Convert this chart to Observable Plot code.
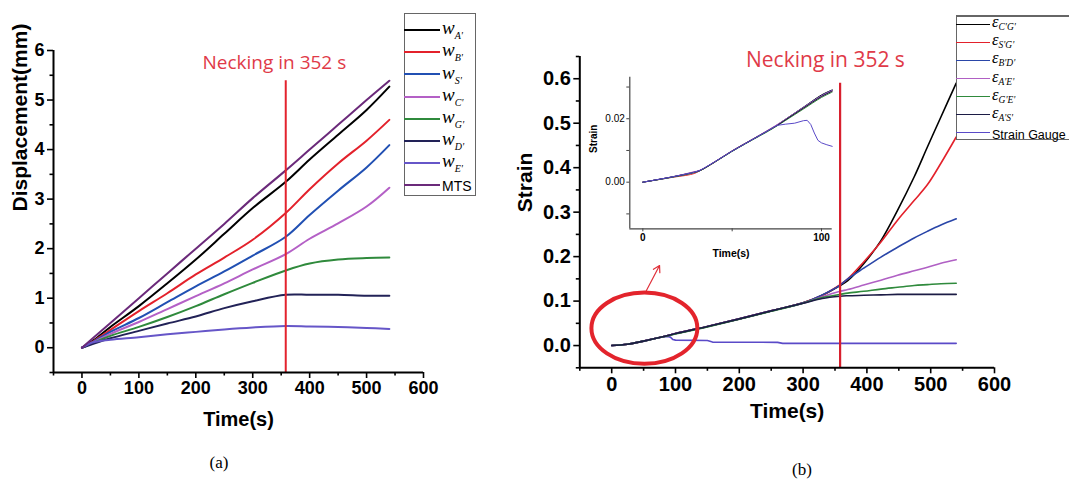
<!DOCTYPE html>
<html><head><meta charset="utf-8">
<script src="https://cdn.jsdelivr.net/npm/d3@7"></script>
<script src="https://cdn.jsdelivr.net/npm/@observablehq/plot@0.6"></script>
<style>
html,body{margin:0;padding:0;background:#fff;overflow:hidden;}
#root{position:relative;width:1069px;height:485px;overflow:hidden;font-family:"Liberation Sans",Arial,sans-serif;}
.panel{position:absolute;}
.legend{position:absolute;background:#fff;border:1px solid #666;box-sizing:border-box;}
.sw{position:absolute;left:0;height:0;border-top-style:solid;}
.lt{position:absolute;white-space:nowrap;line-height:1;}
.sym{font-family:"Liberation Serif","Times New Roman",serif;font-style:italic;}
.sub{font-family:"Liberation Serif","Times New Roman",serif;font-style:italic;position:relative;}
.cap{position:absolute;font-family:"Liberation Serif","Times New Roman",serif;font-size:17px;transform:translate(-50%,-50%);}
</style></head><body><div id="root"></div>
<script>
// ---------- Panel (a): displacement ----------
const timeA = [0, 20, 50, 100, 150, 200, 250, 300, 358, 400, 450, 500, 540];
const wA  = [0, 0.15, 0.42, 0.84, 1.30, 1.78, 2.30, 2.82, 3.35, 3.80, 4.30, 4.80, 5.27];
const wB  = [0, 0.13, 0.36, 0.74, 1.10, 1.48, 1.82, 2.18, 2.72, 3.20, 3.72, 4.18, 4.60];
const wS  = [0, 0.12, 0.32, 0.60, 0.92, 1.24, 1.54, 1.86, 2.24, 2.68, 3.17, 3.64, 4.09];
const wC  = [0, 0.11, 0.28, 0.52, 0.78, 1.04, 1.30, 1.58, 1.89, 2.20, 2.51, 2.85, 3.23];
const wG  = [0, 0.10, 0.24, 0.42, 0.62, 0.84, 1.08, 1.31, 1.56, 1.70, 1.78, 1.81, 1.82];
const wD  = [0, 0.08, 0.19, 0.34, 0.49, 0.63, 0.80, 0.94, 1.07, 1.07, 1.07, 1.05, 1.05];
const wE  = [0, 0.11, 0.16, 0.21, 0.27, 0.32, 0.37, 0.41, 0.44, 0.43, 0.42, 0.40, 0.38];
const mts = [0, 0.20, 0.50, 1.00, 1.50, 2.00, 2.50, 3.02, 3.58, 4.00, 4.50, 5.00, 5.39];
const seriesA = ["wA'", "wB'", "wS'", "wC'", "wG'", "wD'", "wE'", "MTS"];
const valuesA = [wA, wB, wS, wC, wG, wD, wE, mts];
const colorsA = ["#000000", "#e3212b", "#2150b3", "#b460c6", "#2f8a3c", "#222257", "#6656c8", "#6b2a7a"];
const legendA = [["w","A'"],["w","B'"],["w","S'"],["w","C'"],["w","G'"],["w","D'"],["w","E'"],["MTS",null]];
const xTicks = [0, 100, 200, 300, 400, 500, 600];
const xMinor = [-50, 50, 150, 250, 350, 450, 550];
const yTicksA = [0, 1, 2, 3, 4, 5, 6];
const yMinorA = [-0.5, 0.5, 1.5, 2.5, 3.5, 4.5, 5.5];

// ---------- Panel (b): strain ----------
const timeB = [0, 25, 50, 75, 100, 150, 200, 250, 300, 330, 358, 370, 395, 422, 448, 474, 495, 516, 540];
const eCG = [0, 0.003, 0.010, 0.018, 0.027, 0.043, 0.060, 0.078, 0.096, 0.113, 0.135, 0.146, 0.184, 0.236, 0.304, 0.379, 0.447, 0.514, 0.590];
const eSG = [0, 0.003, 0.010, 0.018, 0.027, 0.043, 0.060, 0.078, 0.096, 0.113, 0.137, 0.150, 0.188, 0.233, 0.282, 0.326, 0.362, 0.410, 0.469];
const eBD = [0, 0.003, 0.010, 0.018, 0.027, 0.043, 0.060, 0.078, 0.096, 0.114, 0.136, 0.150, 0.174, 0.199, 0.221, 0.242, 0.257, 0.271, 0.285];
const eAE = [0, 0.003, 0.010, 0.018, 0.027, 0.043, 0.060, 0.078, 0.095, 0.110, 0.122, 0.126, 0.136, 0.147, 0.158, 0.168, 0.176, 0.185, 0.193];
const eGE = [0, 0.003, 0.010, 0.018, 0.026, 0.042, 0.059, 0.077, 0.095, 0.108, 0.115, 0.118, 0.122, 0.127, 0.131, 0.135, 0.137, 0.139, 0.140];
const eAS = [0, 0.003, 0.010, 0.018, 0.027, 0.043, 0.060, 0.078, 0.095, 0.106, 0.111, 0.112, 0.113, 0.114, 0.115, 0.115, 0.115, 0.115, 0.115];
const timeGauge = [0, 25, 50, 75, 88, 92, 96, 100, 150, 158, 260, 268, 540];
const gauge     = [0, 0.003, 0.010, 0.018, 0.0205, 0.019, 0.0135, 0.0122, 0.0115, 0.0078, 0.0072, 0.005, 0.005];
const seriesB = ["eC'G'", "eS'G'", "eB'D'", "eA'E'", "eG'E'", "eA'S'", "Strain Gauge"];
const colorsB = ["#000000", "#e3212b", "#2a46a8", "#b060c4", "#2f8a3c", "#1c1c45", "#5a4ac8"];
const legendB = [["ε","C'G'"],["ε","S'G'"],["ε","B'D'"],["ε","A'E'"],["ε","G'E'"],["ε","A'S'"],["Strain Gauge",null]];
const yTicksB = [0, 0.1, 0.2, 0.3, 0.4, 0.5, 0.6];
const yMinorB = [-0.05, 0.05, 0.15, 0.25, 0.35, 0.45, 0.55, 0.65];

// ---------- Inset ----------
const timeI = [0, 15, 28, 32, 40, 50, 60, 70, 75, 80, 90, 100, 106];
const iCG = [0, 0.0015, 0.0031, 0.0037, 0.0063, 0.0099, 0.0131, 0.0163, 0.0180, 0.0199, 0.0237, 0.0275, 0.0291];
const iSG = [0, 0.0014, 0.0026, 0.0036, 0.0062, 0.0098, 0.0130, 0.0162, 0.0179, 0.0197, 0.0234, 0.0271, 0.0288];
const iBD = [0, 0.0015, 0.0030, 0.0037, 0.0063, 0.0098, 0.0130, 0.0162, 0.0179, 0.0198, 0.0236, 0.0273, 0.0290];
const iAE = [0, 0.0015, 0.0032, 0.0038, 0.0064, 0.0099, 0.0131, 0.0164, 0.0181, 0.0199, 0.0236, 0.0272, 0.0289];
const iGE = [0, 0.0014, 0.0029, 0.0036, 0.0062, 0.0097, 0.0129, 0.0160, 0.0177, 0.0195, 0.0231, 0.0267, 0.0284];
const iAS = [0, 0.0015, 0.0030, 0.0037, 0.0063, 0.0098, 0.0130, 0.0162, 0.0178, 0.0197, 0.0234, 0.0270, 0.0287];
const timeIG = [0, 15, 28, 32, 40, 50, 60, 70, 75, 80, 85, 90, 92, 94, 96, 98, 100, 103, 106];
const iGauge = [0, 0.0015, 0.003, 0.0037, 0.0063, 0.0098, 0.013, 0.0162, 0.0179, 0.0183, 0.0186, 0.0194, 0.0195, 0.0182, 0.0155, 0.0132, 0.0124, 0.0118, 0.0113];

// ---------- Annotations ----------
const neckingLine = [358];
const neckLabelA = [{t: 338, v: 5.75, label: "Necking in 352 s"}];
const neckLabelB = [{t: 335, v: 0.642, label: "Necking in 352 s"}];
const arrowB = [{t1: 53, s1: 0.12, t2: 75, s2: 0.18}];
const circleB = {t: 52, s: 0.038, tr: 83, sr: 0.08};

function rows(times, vals, name) { return times.map((t, i) => ({t, v: vals[i], s: name})); }

const root = document.getElementById("root");
const font = "'Liberation Sans', Arial, sans-serif";
const red = "#e3232e";

// ---------- Panel (a) chart ----------
const dataA = seriesA.flatMap((s, k) => rows(timeA, valuesA[k], s));
const chartA = Plot.plot({
  width: 490, height: 450,
  marginLeft: 53, marginRight: 67, marginTop: 50, marginBottom: 78,
  style: {background: "transparent", fontFamily: font, overflow: "visible"},
  x: {domain: [-50, 600]},
  y: {domain: [-0.5, 6]},
  color: {domain: seriesA, range: colorsA},
  marks: [
    Plot.line(dataA, {x: "t", y: "v", z: "s", stroke: "s", strokeWidth: 2, curve: "catmull-rom"}),
    Plot.ruleX(neckingLine, {y1: 5.39, y2: -0.5, stroke: red, strokeWidth: 2}),
    Plot.text(neckLabelA, {x: "t", y: "v", text: "label", fill: "#e03a48", fontSize: 19, fontFamily: "'Open Sans', 'Liberation Sans', sans-serif"}),
    Plot.ruleX([-50], {stroke: "#000", strokeWidth: 2}),
    Plot.ruleY([-0.5], {stroke: "#000", strokeWidth: 2}),
    Plot.axisX({ticks: xTicks, tickSize: 6, tickPadding: 3, tickFormat: d3.format("d"), fontSize: 18, fontWeight: "bold", strokeWidth: 1.6, label: null}),
    Plot.axisX({ticks: xMinor, tickSize: 3.5, tickFormat: () => "", strokeWidth: 1.6, label: null}),
    Plot.axisY({ticks: yTicksA, tickSize: 6, tickPadding: 3, tickFormat: d3.format("d"), fontSize: 18, fontWeight: "bold", strokeWidth: 1.6, label: null}),
    Plot.axisY({ticks: yMinorA, tickSize: 3.5, tickFormat: () => "", strokeWidth: 1.6, label: null}),
    Plot.text(["Time(s)"], {text: d => d, frameAnchor: "bottom", dy: 53, fontSize: 20, fontWeight: "bold"}),
    Plot.text(["Displacement(mm)"], {text: d => d, frameAnchor: "left", dx: -33, rotate: -90, fontSize: 21, fontWeight: "bold"})
  ]
});
chartA.classList.add("panel");
chartA.style.left = "0px"; chartA.style.top = "0px";
root.appendChild(chartA);

// ---------- Panel (b) chart ----------
const valuesB = [eCG, eSG, eBD, eAE, eGE, eAS];
const dataB = seriesB.slice(0, 6).flatMap((s, k) => rows(timeB, valuesB[k], s));
const dataGauge = rows(timeGauge, gauge, "Strain Gauge");
const chartB = Plot.plot({
  width: 559, height: 450,
  marginLeft: 69.3, marginRight: 75, marginTop: 56, marginBottom: 82.7,
  style: {background: "transparent", fontFamily: font, overflow: "visible"},
  x: {domain: [-50, 600]},
  y: {domain: [-0.05, 0.65]},
  color: {domain: seriesB, range: colorsB},
  marks: [
    Plot.line(dataGauge, {x: "t", y: "v", stroke: "s", strokeWidth: 1.6}),
    Plot.line(dataB, {x: "t", y: "v", z: "s", stroke: "s", strokeWidth: 1.6, curve: "catmull-rom"}),
    Plot.ruleX(neckingLine, {y1: 0.59, y2: -0.05, stroke: "#d8202e", strokeWidth: 2.2}),
    Plot.text(neckLabelB, {x: "t", y: "v", text: "label", fill: "#e03a48", fontSize: 21, fontFamily: "'Open Sans', 'Liberation Sans', sans-serif"}),
    Plot.arrow(arrowB, {x1: "t1", y1: "s1", x2: "t2", y2: "s2", stroke: "#e0303a", strokeWidth: 1.2, headLength: 9}),
    Plot.ruleX([-50], {stroke: "#000", strokeWidth: 2}),
    Plot.ruleY([-0.05], {stroke: "#000", strokeWidth: 2}),
    Plot.axisX({ticks: xTicks, tickSize: 6, tickPadding: 3, tickFormat: d3.format("d"), fontSize: 20, fontWeight: "bold", strokeWidth: 1.6, label: null}),
    Plot.axisX({ticks: xMinor, tickSize: 3.5, tickFormat: () => "", strokeWidth: 1.6, label: null}),
    Plot.axisY({ticks: yTicksB, tickSize: 6, tickPadding: 3, tickFormat: d3.format(".1f"), fontSize: 20, fontWeight: "bold", strokeWidth: 1.6, label: null}),
    Plot.axisY({ticks: yMinorB, tickSize: 3.5, tickFormat: () => "", strokeWidth: 1.6, label: null}),
    Plot.text(["Time(s)"], {text: d => d, frameAnchor: "bottom", dy: 50, fontSize: 21, fontWeight: "bold"}),
    Plot.text(["Strain"], {text: d => d, frameAnchor: "left", dx: -55, rotate: -90, fontSize: 21, fontWeight: "bold"})
  ]
});
chartB.classList.add("panel");
chartB.style.left = "510px"; chartB.style.top = "0px";
root.appendChild(chartB);
{
  const sx = chartB.scale("x"), sy = chartB.scale("y");
  const cx = sx.apply(circleB.t), cy = sy.apply(circleB.s);
  const rx = sx.apply(circleB.t + circleB.tr) - cx, ry = cy - sy.apply(circleB.s + circleB.sr);
  const e = document.createElementNS("http://www.w3.org/2000/svg", "ellipse");
  e.setAttribute("cx", cx); e.setAttribute("cy", cy);
  e.setAttribute("rx", rx); e.setAttribute("ry", ry);
  e.setAttribute("fill", "none"); e.setAttribute("stroke", "#e3242c"); e.setAttribute("stroke-width", 4);
  chartB.appendChild(e);
}

// ---------- Inset chart ----------
const valuesI = [iCG, iSG, iBD, iAE, iGE, iAS];
const dataI = seriesB.slice(0, 6).flatMap((s, k) => rows(timeI, valuesI[k], s));
const dataIG = rows(timeIG, iGauge, "Strain Gauge");
const chartI = Plot.plot({
  width: 260, height: 210,
  marginLeft: 49.3, marginRight: 8.3, marginTop: 16.7, marginBottom: 41.7,
  style: {background: "transparent", fontFamily: font, overflow: "visible"},
  x: {domain: [-7.3, 106]},
  y: {domain: [-0.0147, 0.0331]},
  color: {domain: seriesB, range: colorsB},
  marks: [
    Plot.line(dataI, {x: "t", y: "v", z: "s", stroke: "s", strokeWidth: 1, curve: "catmull-rom"}),
    Plot.line(dataIG, {x: "t", y: "v", stroke: "s", strokeWidth: 1}),
    Plot.ruleX([-7.3], {stroke: "#444", strokeWidth: 1.2}),
    Plot.ruleY([-0.0147], {stroke: "#444", strokeWidth: 1.2}),
    Plot.axisX({ticks: [0, 100], tickSize: 3, tickPadding: 2, tickFormat: d3.format("d"), fontSize: 10, fontWeight: "bold", stroke: "#444", label: null}),
    Plot.axisX({ticks: [50], tickSize: 3, tickFormat: () => "", stroke: "#444", label: null}),
    Plot.axisY({ticks: [0, 0.02], tickSize: 3, tickPadding: 2, tickFormat: d3.format(".2f"), fontSize: 10, stroke: "#444", label: null}),
    Plot.axisY({ticks: [-0.01, 0.01, 0.03], tickSize: 3, tickFormat: () => "", stroke: "#444", label: null}),
    Plot.text(["Time(s)"], {text: d => d, frameAnchor: "bottom", dy: 28, fontSize: 10.5, fontWeight: "bold"}),
    Plot.text(["Strain"], {text: d => d, frameAnchor: "left", dx: -36, rotate: -90, fontSize: 10, fontWeight: "bold"})
  ]
});
chartI.classList.add("panel");
chartI.style.left = "580px"; chartI.style.top = "60px";
root.appendChild(chartI);

// ---------- Legends ----------
function makeLegend(items, colors, box, opt) {
  const div = document.createElement("div");
  div.className = "legend";
  Object.assign(div.style, {left: box.left + "px", top: box.top + "px", width: box.width + "px", height: box.height + "px", borderTopWidth: (opt.topBorder || 1) + "px"});
  items.forEach(([sym, sub], i) => {
    const y = opt.first + i * opt.step;
    const sw = document.createElement("div");
    sw.className = "sw";
    Object.assign(sw.style, {top: (y - 1) + "px", width: opt.lineW + "px", borderTopWidth: opt.lineT + "px", borderTopColor: colors[i], left: "-1px"});
    div.appendChild(sw);
    const t = document.createElement("div");
    t.className = "lt";
    t.style.left = (opt.lineW + 1) + "px";
    if (sub) {
      t.innerHTML = `<span class="sym" style="font-size:${opt.symSize}px">${sym}</span><span class="sub" style="font-size:${opt.subSize}px;top:${opt.subDrop}px">${sub}</span>`;
      t.style.top = (y - opt.symSize * 0.62) + "px";
    } else {
      t.innerHTML = `<span style="font-family:${font};font-size:${opt.txtSize}px">${sym}</span>`;
      t.style.top = (y - opt.txtSize * 0.55) + "px";
    }
    div.appendChild(t);
  });
  root.appendChild(div);
}
makeLegend(legendA, colorsA, {left: 404, top: 13, width: 72, height: 183},
  {first: 16, step: 22.2, lineW: 36, lineT: 2, symSize: 19, subSize: 10, subDrop: 5, txtSize: 14});
makeLegend(legendB, colorsB, {left: 956, top: 15, width: 140, height: 125},
  {first: 7.5, step: 18.1, lineW: 34, lineT: 1.5, symSize: 16.5, subSize: 9.5, subDrop: 3, txtSize: 12.5, topBorder: 2});

// ---------- Captions ----------
[["(a)", 219, 463], ["(b)", 802, 470]].forEach(([s, x, y]) => {
  const c = document.createElement("div");
  c.className = "cap"; c.textContent = s;
  c.style.left = x + "px"; c.style.top = y + "px";
  root.appendChild(c);
});
</script>
</body></html>
